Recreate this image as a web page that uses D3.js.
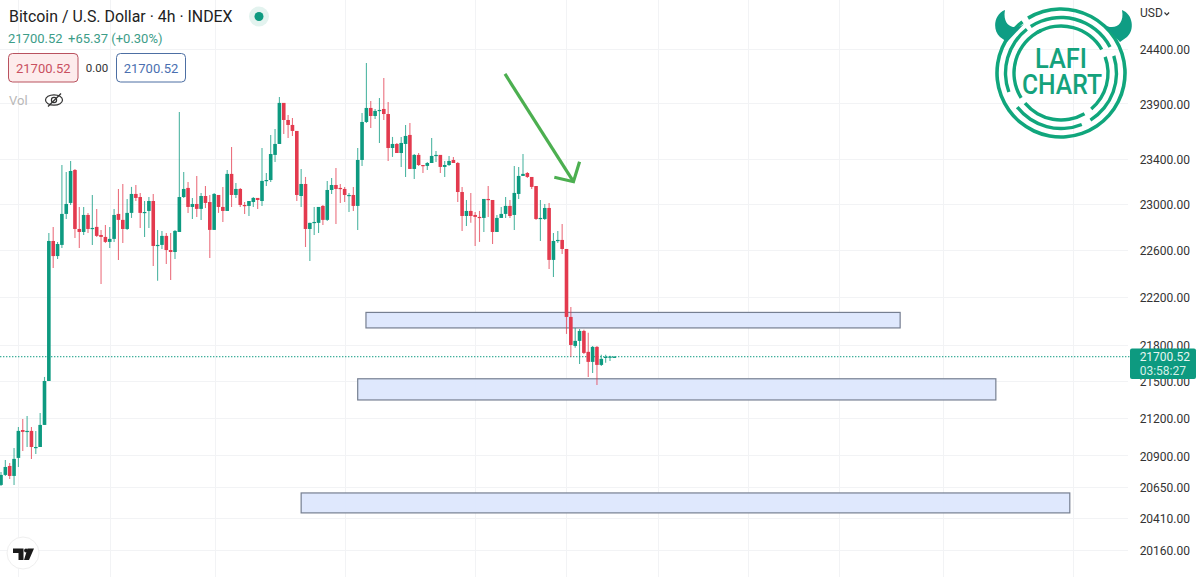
<!DOCTYPE html>
<html>
<head>
<meta charset="utf-8">
<script src="https://cdn.jsdelivr.net/npm/d3@7"></script>
<style>
html,body{margin:0;padding:0;background:#fff;overflow:hidden}
svg{display:block;font-family:Roboto,sans-serif}
</style>
</head>
<body>
<div id="chart"></div>
<script>
const opens=[20666,20745,20816,20737,20880,21103,21088,21096,20959,20967,
21144,21501,22679,22549,22645,22914,23010,23301,22783,22757,
22905,22783,22801,22731,22714,22671,22697,22914,22862,22783,
22923,23089,23062,22923,22940,23027,22636,22645,22723,22601,
22584,22757,23062,23142,22975,23001,22958,23071,23018,22775,
23080,22975,22940,23266,23080,23133,22992,22984,23018,23054,
23027,23204,23212,23435,23533,23904,23749,23704,23650,23071,
23177,22783,22836,22836,22984,22862,23124,23168,23142,23133,
23071,23080,22984,23390,23731,23858,23785,23831,23849,23803,
23497,23533,23452,23533,23614,23310,23435,23345,23337,23363,
23426,23435,23328,23345,23390,23363,23106,22896,22940,22905,
22888,22879,23045,23036,22757,22879,22914,22984,22905,23089,
23248,23274,23239,23159,22870,22870,22966,22516,22679,22688,
22610,22032,21790,21832,21915,21741,21658,21782,21633,21691,21695,21700];
const highs=[20768,20864,20840,20959,21127,21192,21216,21127,21096,21240,
21534,22749,22801,22671,23345,23283,23381,23310,22975,22975,
22923,23080,22958,22775,22818,22801,22958,23133,23177,23045,
23151,23168,23098,23027,23062,23089,22775,22766,22749,22749,
22775,23822,23283,23195,23054,23248,23098,23159,23080,23098,
23080,23151,23301,23506,23186,23142,23018,23027,23062,23054,
23497,23274,23614,23668,23958,23904,23794,23767,23650,23310,
23239,22836,22975,22975,22992,23204,23230,23319,23177,23151,
23098,23151,23497,23813,24270,23922,23849,23949,24132,23913,
23596,23542,23596,23704,23722,23443,23452,23345,23372,23587,
23470,23435,23381,23426,23417,23372,23151,23036,23098,22931,
22940,23045,23159,23036,22905,22975,23062,23036,23337,23328,
23443,23283,23239,23159,23036,23001,23010,22749,22766,22827,
22610,22116,21940,21932,21924,21899,21790,21790,21716,21716,21708,21704];
const lows=[20658,20737,20713,20666,20808,20935,20967,20872,20911,20967,
21144,21501,22447,22524,22618,22870,22992,22705,22618,22731,
22749,22645,22714,22311,22662,22618,22671,22516,22662,22775,
22879,23027,22792,22714,22792,22464,22337,22610,22481,22345,
22524,22757,23054,22923,22870,22888,22862,22966,22532,22775,
22923,22844,22940,22975,23054,22975,22914,22896,22975,22958,
22984,23159,23195,23372,23533,23623,23587,23605,23027,22975,
22627,22507,22731,22749,22818,22853,23089,22827,23010,23018,
22931,22940,22775,23337,23722,23677,23758,23542,23749,23381,
23417,23452,23328,23239,23310,23221,23337,23274,23301,23363,
23372,23274,23239,23337,23363,23018,22766,22809,22836,22636,
22671,22757,22888,22653,22757,22879,22879,22879,22775,23045,
23248,23230,23133,22862,22679,22862,22438,22370,22662,22566,
21890,21700,21774,21641,21724,21534,21567,21469,21625,21650,21666,21695];
const closes=[20745,20808,20737,20872,21096,21088,21096,20967,20967,21144,
21501,22679,22549,22653,22914,23001,23292,22783,22757,22905,
22783,22792,22723,22714,22671,22697,22905,22862,22783,22923,
23089,23054,22923,22931,23027,22636,22645,22723,22601,22584,
22766,23062,23133,22975,23001,22958,23071,23010,22775,23089,
22975,22940,23266,23080,23133,22992,22984,23027,23054,23036,
23204,23212,23443,23533,23904,23749,23704,23650,23080,23177,
22783,22836,22844,22975,22862,23124,23168,23133,23133,23080,
23080,22984,23390,23731,23858,23785,23831,23840,23803,23497,
23533,23452,23542,23605,23310,23435,23345,23337,23363,23426,
23435,23328,23345,23381,23363,23106,22896,22940,22896,22888,
22879,23045,23036,22757,22879,22914,22984,22896,23098,23248,
23266,23239,23151,22870,22879,22966,22516,22679,22688,22610,
22032,21798,21832,21915,21732,21658,21782,21633,21683,21700,21702,21700.52];
const priceTicks=[24400,23900,23400,23000,22600,22200,21800,21500,21200,20900,20650,20410,20160];
const timeGrid=[3.9,25.06,49.2,79.1,108.97,129.9,151,171.7,192.7,216.6,246.4];
const bandTop=[22070,21519,20603];
const bandBottom=[21940,21346,20447];
const bandStart=[83.9,82,69];
const bandEnd=[206.7,228.7,245.7];
const lastPrice=21700.52;
const arrowBar=[115.86,131.6];
const arrowPrice=[24169,23197];
const headBar=[127.2,131.6,133];
const headPrice=[23236,23197,23374];

const W=1200,H=577,plotRight=1128;
const x=d3.scaleLinear().domain([0,141]).range([1,614.35]);
const y=d3.scaleLog().domain([20160,24400]).range([550,49]);
const GREEN="#0d9a80",RED="#e33a4e",BAND="#dde6fd",BORDER="#767f91";

const svg=d3.select("#chart").append("svg").attr("width",W).attr("height",H).attr("viewBox",`0 0 ${W} ${H}`);

// grid
const grid=svg.append("g").attr("stroke","#f2f3f5").attr("stroke-width",1).attr("shape-rendering","crispEdges");
grid.selectAll(".h").data(priceTicks).join("line").attr("x1",0).attr("x2",plotRight).attr("y1",d=>Math.round(y(d))+.5).attr("y2",d=>Math.round(y(d))+.5);
grid.selectAll(".v").data(timeGrid).join("line").attr("x1",d=>Math.round(x(d))+.5).attr("x2",d=>Math.round(x(d))+.5).attr("y1",0).attr("y2",H);

// bands
svg.append("g").selectAll("rect").data(bandTop).join("rect")
  .attr("x",(d,i)=>x(bandStart[i]))
  .attr("width",(d,i)=>x(bandEnd[i])-x(bandStart[i]))
  .attr("y",d=>y(d))
  .attr("height",(d,i)=>y(bandBottom[i])-y(d))
  .attr("fill",BAND).attr("fill-opacity",.93).attr("stroke",BORDER).attr("stroke-width",1.2);

// last price line
svg.append("line").attr("x1",0).attr("x2",plotRight+2).attr("y1",y(lastPrice)).attr("y2",y(lastPrice))
  .attr("stroke",GREEN).attr("stroke-width",1).attr("stroke-dasharray","1.4 1.6");

// candles
const idx=d3.range(closes.length);
const col=i=>closes[i]>=opens[i]?GREEN:RED;
svg.append("g").selectAll("line").data(idx).join("line")
  .attr("x1",i=>x(i)).attr("x2",i=>x(i)).attr("y1",i=>y(highs[i])).attr("y2",i=>y(lows[i]))
  .attr("stroke",col).attr("stroke-width",1.1).attr("stroke-opacity",.72);
svg.append("g").selectAll("rect").data(idx).join("rect")
  .attr("x",i=>x(i)-1.8).attr("width",3.6)
  .attr("y",i=>y(Math.max(opens[i],closes[i])))
  .attr("height",i=>Math.max(1.2,Math.abs(y(opens[i])-y(closes[i]))))
  .attr("fill",col);

// arrow
const arrowLine=d3.line();
svg.append("path").attr("d",arrowLine(arrowBar.map((b,i)=>[x(b),y(arrowPrice[i])])))
  .attr("fill","none").attr("stroke","#4caf50").attr("stroke-width",3.2);
svg.append("path").attr("d",arrowLine(headBar.map((b,i)=>[x(b),y(headPrice[i])])))
  .attr("fill","none").attr("stroke","#4caf50").attr("stroke-width",3.2);

// price axis
const axis=d3.axisRight(y).tickValues(priceTicks).tickSize(0).tickPadding(0).tickFormat(d3.format(".2f"));
const ag=svg.append("g").attr("transform","translate(1190,1)").call(axis);
ag.select(".domain").remove();
ag.selectAll("text").attr("text-anchor","end").attr("fill","#333").attr("font-size",12).attr("font-family","Roboto,sans-serif");

// last price tag
svg.append("rect").attr("x",1130).attr("y",348.5).attr("width",66).attr("height",30.5).attr("rx",2).attr("fill",GREEN);
svg.append("text").attr("x",1190).attr("y",361).attr("text-anchor","end").attr("fill","#e6f5f1").attr("font-size",12).text(d3.format(".2f")(lastPrice));
svg.append("text").attr("x",1186).attr("y",375).attr("text-anchor","end").attr("fill","#d5efe8").attr("font-size",12).text("03:58:27");

// currency
svg.append("text").attr("x",1140).attr("y",17).attr("fill","#333").attr("font-size",12).text("USD");
svg.append("path").attr("d","M1164.5 12.5l2.3 2.3 2.3-2.3").attr("fill","none").attr("stroke","#333").attr("stroke-width",1.2);

// header
svg.append("text").attr("x",9).attr("y",22).attr("fill","#222").attr("font-size",15.9).text("Bitcoin / U.S. Dollar · 4h · INDEX");
svg.append("circle").attr("cx",259).attr("cy",16.5).attr("r",10).attr("fill","#e3f3ef");
svg.append("circle").attr("cx",259).attr("cy",16.5).attr("r",4.5).attr("fill",GREEN);
svg.append("text").attr("x",8).attr("y",43).attr("fill","#3c9d88").attr("font-size",13).text("21700.52");
svg.append("text").attr("x",68).attr("y",43).attr("fill","#3c9d88").attr("font-size",13).text("+65.37 (+0.30%)");

svg.append("rect").attr("x",8.5).attr("y",53.5).attr("width",69.5).attr("height",28.5).attr("rx",4).attr("fill","#fdecec").attr("stroke","#b9525f").attr("stroke-width",1);
svg.append("text").attr("x",43.3).attr("y",72.5).attr("text-anchor","middle").attr("fill","#c9505f").attr("font-size",13).text("21700.52");
svg.append("text").attr("x",97).attr("y",72).attr("text-anchor","middle").attr("fill","#333").attr("font-size",11.5).text("0.00");
svg.append("rect").attr("x",116.5).attr("y",53.5).attr("width",69).attr("height",28.5).attr("rx",4).attr("fill","#fff").attr("stroke","#4d6fa3").attr("stroke-width",1);
svg.append("text").attr("x",151).attr("y",72.5).attr("text-anchor","middle").attr("fill","#4a6fb0").attr("font-size",13).text("21700.52");

svg.append("text").attr("x",9).attr("y",105).attr("fill","#b8b8b8").attr("font-size",13).text("Vol");
const eye=svg.append("g").attr("fill","none").attr("stroke","#333").attr("stroke-width",1.2);
eye.append("ellipse").attr("cx",54).attr("cy",100).attr("rx",8.5).attr("ry",5.2);
eye.append("circle").attr("cx",54).attr("cy",100).attr("r",2.6);
eye.append("line").attr("x1",48).attr("y1",106.5).attr("x2",61).attr("y2",93.5);

// TradingView badge
svg.append("circle").attr("cx",23).attr("cy",553).attr("r",16).attr("fill","#fff").attr("stroke","#efefef").attr("stroke-width",1);
svg.append("path").attr("d","M13 548.5H23.5V560H18.5V553H13Z M27.5 548.5H34L29 560H24Z").attr("fill","#1a1a1a");
svg.append("circle").attr("cx",26).attr("cy",550.5).attr("r",1.9).attr("fill","#1a1a1a");

// logo
const logo=svg.append("g");
const cx=1061,cy=73;
const arc=d3.arc();
const rad=d=>d*Math.PI/180;
const ringRadius=[64,55.5,47];
const ringWidth=[3.6,3.4,3.4];
const ringStart=[[-31],[-33,72,158,250],[-30,70,150,238]];
const ringEnd=[[323],[62,148,232,322],[60,140,230,335]];
ringRadius.forEach((r,k)=>{
  ringStart[k].forEach((s,j)=>{
    logo.append("path").attr("transform",`translate(${cx},${cy})`)
      .attr("d",arc({innerRadius:r-ringWidth[k]/2,outerRadius:r+ringWidth[k]/2,startAngle:rad(s),endAngle:rad(ringEnd[k][j])}))
      .attr("fill","#10a67c");
  });
});
const horn="M1005 10C994 14 992 30 1000 37L1007 42L1024 24C1014 31 1002 26 1005 10Z";
logo.append("path").attr("d",horn).attr("fill","#0f9d84");
logo.append("path").attr("d",horn).attr("fill","#0f9d84").attr("transform","translate(2127,0) scale(-1,1)");
logo.append("text").attr("x",1035).attr("y",68).attr("font-size",28).attr("font-weight",500).attr("fill","#14a27c").attr("textLength",52).attr("lengthAdjust","spacingAndGlyphs").text("LAFI");
logo.append("text").attr("x",1022).attr("y",94).attr("font-size",27).attr("font-weight",500).attr("fill","#14a27c").attr("textLength",80).attr("lengthAdjust","spacingAndGlyphs").text("CHART");
</script>
</body>
</html>
